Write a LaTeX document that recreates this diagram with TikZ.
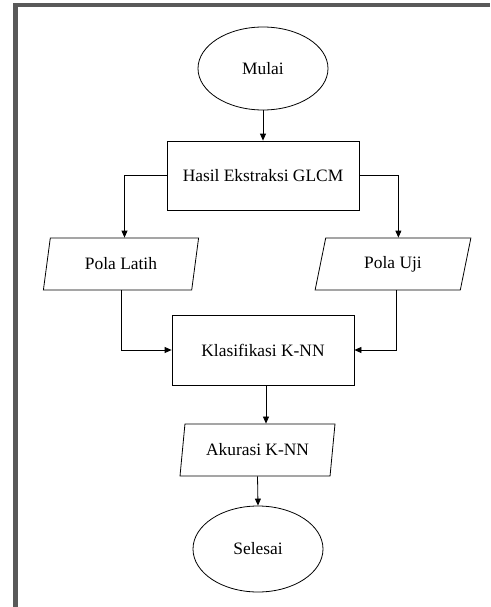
\documentclass[tikz,border=0pt]{standalone}
\usepackage{fontspec}
\setmainfont{Liberation Serif}
\usetikzlibrary{shapes.geometric,arrows.meta}
\definecolor{framegray}{HTML}{595959}
\begin{document}
\begin{tikzpicture}[x=1pt,y=-1pt,
  every node/.style={font=\fontsize{17.4}{20}\selectfont, inner sep=0pt},
  term/.style={ellipse, draw, line width=0.8pt, minimum width=130pt},
  proc/.style={rectangle, draw, line width=0.8pt},
  io/.style={trapezium, trapezium left angle=74, trapezium right angle=106, trapezium stretches=true, draw, line width=0.8pt, minimum width=156pt, minimum height=52pt},
  conn/.style={line width=0.8pt, -{Triangle[length=7pt,width=6pt]}},
  line/.style={line width=0.8pt}]
\useasboundingbox (0,0) rectangle (490,607);
\draw[framegray, line width=4.6pt] (15.5,607) -- (15.5,5) -- (490,5);
\node[term, minimum height=83pt] (mulai) at (263,68.5) {Mulai};
\node[proc, minimum width=192pt, minimum height=69pt] (hasil) at (263,175.5) {Hasil Ekstraksi GLCM};
\node[io] (latih) at (121,264) {Pola Latih};
\node[io] (uji) at (393,264) {Pola Uji};
\node[proc, minimum width=182pt, minimum height=70pt] (knn) at (263,350) {Klasifikasi K-NN};
\node[io, minimum width=155pt] (akurasi) at (257.5,450) {Akurasi K-NN};
\node[term, minimum height=86pt] (selesai) at (258,549) {Selesai};
\draw[conn] (mulai) -- (hasil);
\draw[conn] (hasil.west) -| (latih.top side);
\draw[conn] (hasil.east) -| (uji.top side);
\draw[conn] (latih.south) |- (knn.west);
\draw[conn] ([xshift=3pt]uji.south) |- (knn.east);
\draw[conn] ([xshift=3pt]knn.south) -- ([xshift=3pt]knn.south |- akurasi.north);
\draw[conn] (akurasi.south) -- (selesai.north);
\end{tikzpicture}
\end{document}
